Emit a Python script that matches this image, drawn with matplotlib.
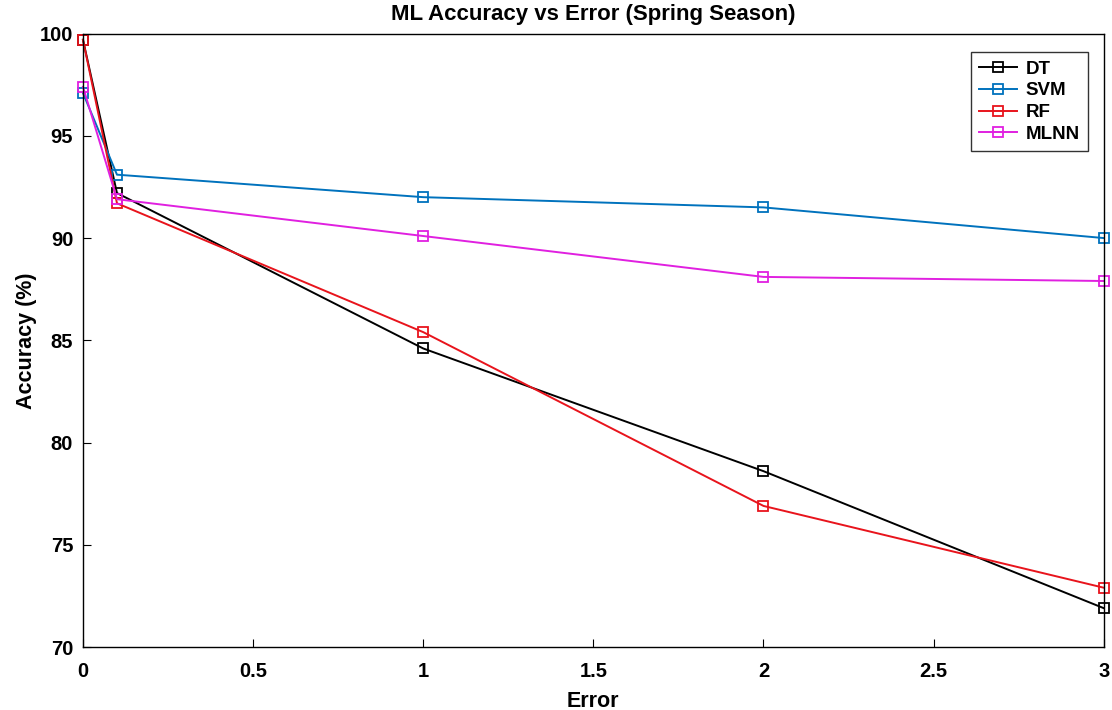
import matplotlib
matplotlib.use("Agg")
import matplotlib.pyplot as plt

plt.rcParams["font.family"] = ["Liberation Sans", "DejaVu Sans"]
plt.rcParams["font.weight"] = "bold"

errors = [0, 0.1, 1, 2, 3]
dt = [99.7, 92.2, 84.6, 78.6, 71.9]
svm = [97.1, 93.1, 92.0, 91.5, 90.0]
rf = [99.7, 91.7, 85.4, 76.9, 72.9]
mlnn = [97.4, 91.9, 90.1, 88.1, 87.9]

fig = plt.figure(figsize=(11.12, 7.10), dpi=100)
ax = fig.add_axes([0.0746, 0.0887, 0.918, 0.864])

style = dict(marker="s", markersize=6.5, markerfacecolor="none", linewidth=1.4,
             markeredgewidth=1.3, clip_on=False)
ax.plot(errors, dt, color="black", label="DT", **style)
ax.plot(errors, svm, color="#0072BD", label="SVM", **style)
ax.plot(errors, rf, color="#E8141C", label="RF", **style)
ax.plot(errors, mlnn, color="#E020E0", label="MLNN", **style)

ax.set_xlim(0, 3)
ax.set_ylim(70, 100)
ax.set_xticks([0, 0.5, 1, 1.5, 2, 2.5, 3])
ax.set_xticklabels(["0", "0.5", "1", "1.5", "2", "2.5", "3"])
ax.set_yticks([70, 75, 80, 85, 90, 95, 100])
ax.tick_params(direction="in", length=6, labelsize=14.5, top=False, right=False)
ax.tick_params(axis="x", pad=11)
ax.tick_params(axis="y", pad=7)
for s in ax.spines.values():
    s.set_linewidth(1.0)

ax.set_xlabel("Error", fontsize=15.5, fontweight="bold", labelpad=7)
ax.set_ylabel("Accuracy (%)", fontsize=15.5, fontweight="bold", labelpad=2)
ax.set_title("ML Accuracy vs Error (Spring Season)", fontsize=16, fontweight="bold", pad=10)

leg = ax.legend(loc="upper right", fontsize=13.5, frameon=True, fancybox=False,
                edgecolor="black", bbox_to_anchor=(0.985, 0.97), borderaxespad=0,
                handlelength=2.0, labelspacing=0.25, borderpad=0.45, handletextpad=0.5)
leg.get_frame().set_linewidth(1.0)

fig.savefig("out.png", dpi=100)
